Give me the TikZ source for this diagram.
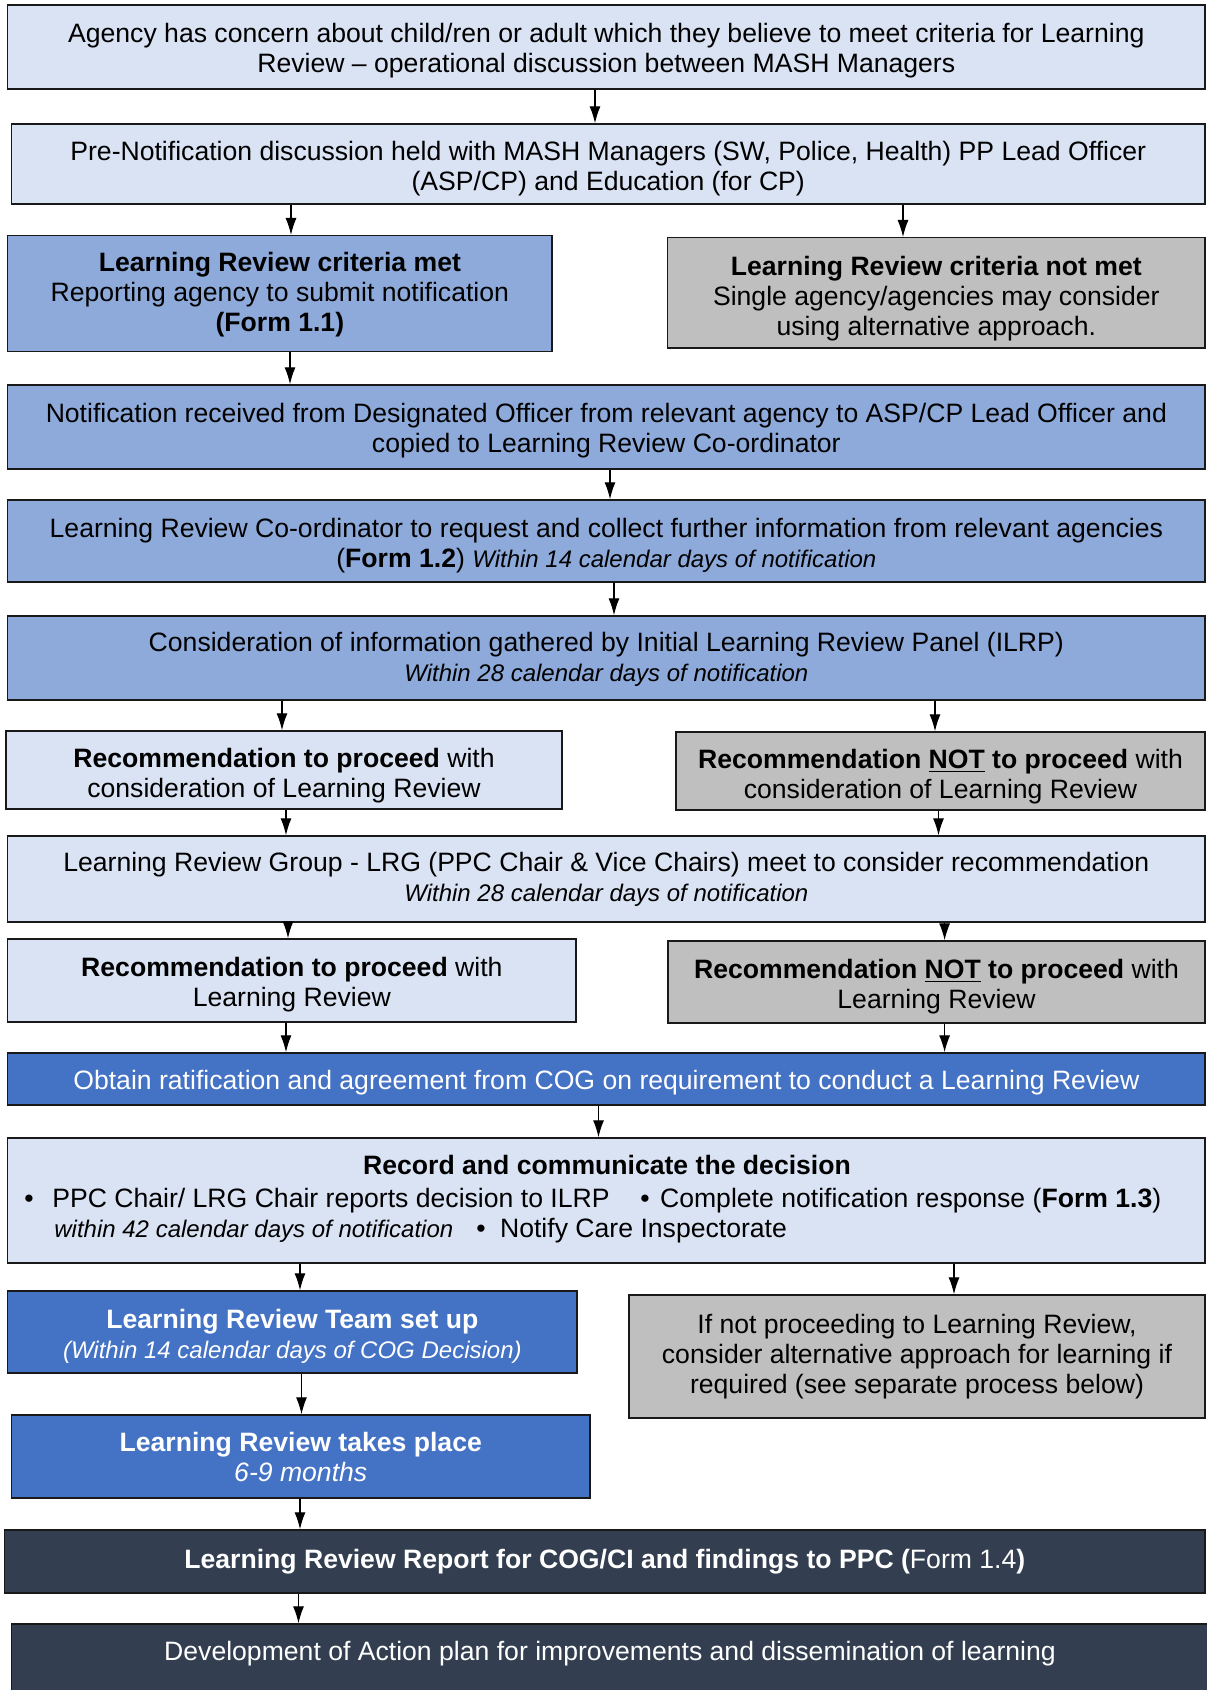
\documentclass[tikz,border=0pt]{standalone}
\usepackage{fontspec}
\setmainfont{Liberation Sans}
\usetikzlibrary{arrows.meta}
\definecolor{lightb}{HTML}{DAE3F3}
\definecolor{midb}{HTML}{8EAADB}
\definecolor{greyb}{HTML}{BFBFBF}
\definecolor{blueb}{HTML}{4472C4}
\definecolor{darkb}{HTML}{333F50}
\newcommand{\smit}{\fontsize{12}{15}\selectfont\itshape}
\newcommand{\tup}[1]{\rule{0pt}{#1}}
\begin{document}
\begin{tikzpicture}[x=0.5pt,y=-0.5pt,
  box/.style={draw=black!90, line width=0.7pt, inner sep=0pt, align=center,
    font={\fontsize{13.3}{15}\selectfont}, text=black},
  lbox/.style={box, fill=lightb},
  mbox/.style={box, fill=midb},
  gbox/.style={box, fill=greyb},
  bbox/.style={box, fill=blueb, text=white},
  dbox/.style={box, fill=darkb, text=white},
  txt/.style={inner sep=0pt, font={\fontsize{13.3}{15}\selectfont}},
  arr/.style={-{Latex[length=8.5pt,width=5.5pt]}, line width=0.6pt, draw=black}]
\useasboundingbox (0,0) rectangle (1206,1690);
\fill[white] (0,0) rectangle (1206,1690);

\node[lbox, minimum width=598.65pt, minimum height=42pt] (b1) at (606.35,47)
  {\tup{13.3pt}Agency has concern about child/ren or adult which they believe to meet criteria for Learning\\
   Review -- operational discussion between MASH Managers};
\node[lbox, minimum width=596.75pt, minimum height=40pt] (b2) at (608.25,164)
  {\tup{13.9pt}Pre-Notification discussion held with MASH Managers (SW, Police, Health) PP Lead Officer\\
   (ASP/CP) and Education (for CP)};
\node[mbox, minimum width=272.15pt, minimum height=58pt] (b3) at (279.85,293.7)
  {\tup{10.4pt}\textbf{Learning Review criteria met}\\ Reporting agency to submit notification\\ \textbf{(Form 1.1)}};
\node[gbox, minimum width=268.7pt, minimum height=55.15pt] (b4) at (936.3,292.85)
  {\tup{15pt}\textbf{Learning Review criteria not met}\\ Single agency/agencies may consider\\ using alternative approach.};
\node[mbox, minimum width=598.65pt, minimum height=42pt] (b5) at (606.35,427)
  {\tup{13.3pt}Notification received from Designated Officer from relevant agency to ASP/CP Lead Officer and\\
   copied to Learning Review Co-ordinator};
\node[mbox, minimum width=598.65pt, minimum height=41pt] (b6) at (606.35,541)
  {\tup{13.9pt}Learning Review Co-ordinator to request and collect further information from relevant agencies\\
   (\textbf{Form 1.2}) {\smit Within 14 calendar days of notification}};
\node[mbox, minimum width=598.65pt, minimum height=42pt] (b7) at (606.35,658)
  {\tup{10.6pt}Consideration of information gathered by Initial Learning Review Panel (ILRP)\\
   {\smit Within 28 calendar days of notification}};
\node[lbox, minimum width=278pt, minimum height=39pt] (b8) at (284,770)
  {\tup{15pt}\textbf{Recommendation to proceed} with\\ consideration of Learning Review};
\node[gbox, minimum width=264.5pt, minimum height=39pt] (b9) at (940.5,771)
  {\tup{15pt}\textbf{Recommendation \underline{NOT} to proceed} with\\ consideration of Learning Review};
\node[lbox, minimum width=598.65pt, minimum height=43pt] (b10) at (606.35,879)
  {Learning Review Group - LRG (PPC Chair \& Vice Chairs) meet to consider recommendation\\
   {\smit Within 28 calendar days of notification}};
\node[lbox, minimum width=284.15pt, minimum height=41.5pt] (b11) at (291.85,980.5)
  {\tup{13.5pt}\textbf{Recommendation to proceed} with\\ Learning Review};
\node[gbox, minimum width=268.5pt, minimum height=41pt] (b12) at (936.5,982)
  {\tup{13.9pt}\textbf{Recommendation \underline{NOT} to proceed} with\\ Learning Review};
\node[bbox, minimum width=598.65pt, minimum height=26pt] (b13) at (606.35,1079)
  {\tup{13pt}Obtain ratification and agreement from COG on requirement to conduct a Learning Review};
\node[lbox, minimum width=598.65pt, minimum height=62.5pt] (b14) at (606.35,1200.5) {};
\node[txt, anchor=base] (t14a) at (607,1174) {\textbf{Record and communicate the decision}};
\node[txt, anchor=base west] (t14b) at (24,1207) {•\hspace{9.3pt}PPC Chair/ LRG Chair reports decision to ILRP};
\node[txt, anchor=base west] (t14c) at (640,1207) {•\hspace{5.2pt}Complete notification response (\textbf{Form 1.3})};
\node[txt, anchor=base west] (t14d) at (54,1237) {\smit within 42 calendar days of notification};
\node[txt, anchor=base west] (t14e) at (476,1237) {•\hspace{7.2pt}Notify Care Inspectorate};
\node[bbox, minimum width=284.65pt, minimum height=41pt] (b15) at (292.35,1332)
  {\tup{13.5pt}\textbf{Learning Review Team set up}\\ {\smit (Within 14 calendar days of COG Decision)}};
\node[gbox, minimum width=288pt, minimum height=61.5pt] (b16) at (917,1356.5)
  {If not proceeding to Learning Review,\\ consider alternative approach for learning if\\ required (see separate process below)};
\node[bbox, minimum width=289.25pt, minimum height=41.5pt] (b17) at (300.75,1456.5)
  {\textbf{Learning Review takes place}\\ \textit{6-9 months}};
\node[dbox, minimum width=600.2pt, minimum height=31.5pt] (b18) at (604.8,1561.5)
  {\textbf{Learning Review Report for COG/CI and findings to PPC (}Form 1.4\textbf{)}};
\node[dbox, minimum width=601.75pt, minimum height=43pt] (b19) at (613.25,1667) {};
\node[txt, text=white] (t19) at (610,1654)
  {Development of Action plan for improvements and dissemination of learning};

\draw[arr] (b1.south -| 595,0) -- (b2.north -| 595,0);
\draw[arr] (b2.south -| 291,0) -- (b3.north -| 291,0);
\draw[arr] (b2.south -| 903,0) -- (b4.north -| 903,0);
\draw[arr] (b3.south -| 290,0) -- (b5.north -| 290,0);
\draw[arr] (b5.south -| 610,0) -- (b6.north -| 610,0);
\draw[arr] (b6.south -| 614,0) -- (b7.north -| 614,0);
\draw[arr] (b7.south -| 282,0) -- (b8.north -| 282,0);
\draw[arr] (b7.south -| 935,0) -- (b9.north -| 935,0);
\draw[arr] (b8.south -| 286,0) -- (b10.north -| 286,0);
\draw[arr] (b9.south -| 938.5,0) -- (b10.north -| 938.5,0);
\draw[arr] (b10.south -| 288,0) -- (b11.north -| 288,0);
\draw[arr] (b10.south -| 944.6,0) -- (b12.north -| 944.6,0);
\draw[arr] (b11.south -| 286,0) -- (b13.north -| 286,0);
\draw[arr] (b12.south -| 944.6,0) -- (b13.north -| 944.6,0);
\draw[arr] (b13.south -| 598.5,0) -- (b14.north -| 598.5,0);
\draw[arr] (b14.south -| 300,0) -- (b15.north -| 300,0);
\draw[arr] (b14.south -| 954,0) -- (b16.north -| 954,0);
\draw[arr] (b15.south -| 301.5,0) -- (b17.north -| 301.5,0);
\draw[arr] (b17.south -| 300,0) -- (b18.north -| 300,0);
\draw[arr] (b18.south -| 298.5,0) -- (b19.north -| 298.5,0);
\end{tikzpicture}
\end{document}
